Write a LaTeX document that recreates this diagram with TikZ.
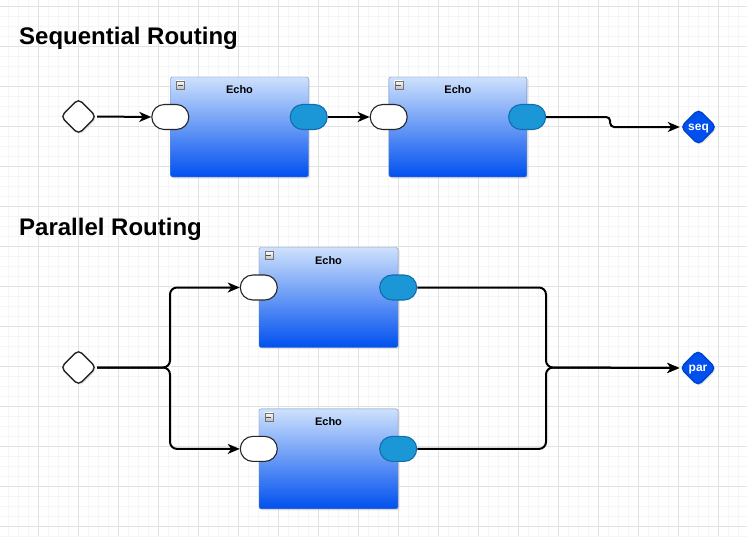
\documentclass[tikz,border=0pt]{standalone}
\usepackage{fontspec}
\setmainfont{Liberation Sans}
\usetikzlibrary{arrows.meta,shapes.geometric,shapes.misc,shadows,positioning}
\tikzset{>={Stealth[length=12pt,width=10pt,inset=3.5pt]}}
\definecolor{echotop}{RGB}{206,225,252}
\definecolor{echobot}{RGB}{0,80,239}
\definecolor{echoline}{RGB}{108,142,191}
\definecolor{portblue}{RGB}{27,151,216}
\definecolor{portline}{RGB}{16,110,175}
\definecolor{gridminor}{RGB}{245,245,245}
\definecolor{gridmajor}{RGB}{226,226,226}

\begin{document}
\begin{tikzpicture}[x=1pt,y=-1pt,
shadowed/.style = {
    drop shadow={shadow xshift=1.5pt,shadow yshift=-1.5pt,opacity=.2}
                  },
echo/.style = {
    draw=echoline, rounded corners=2pt,
    top color=echotop, bottom color=echobot,
    minimum width=#1, minimum height=100pt, inner sep=0pt,
    shadowed
               },
echolabel/.style = {font=\bfseries\fontsize{11}{13}\selectfont, inner sep=0pt},
collapse/.style = {
    draw=black!55, top color=white, bottom color=black!25,
    minimum size=8pt, inner sep=0pt
                   },
port/.style = {
    rounded rectangle, draw=black!85, line width=1.1pt, fill=white,
    minimum width=37pt, minimum height=25pt, inner sep=0pt
               },
outport/.style = {port, fill=portblue, draw=portline},
gate/.style = {
    diamond, aspect=1, draw=black!85, line width=1.4pt, fill=white,
    rounded corners=5pt, minimum size=36pt, inner sep=0pt, shadowed
               },
sink/.style = {
    gate, fill=echobot, draw=echobot!85!black, text=white,
    text height=6.2pt, text depth=0pt,
    font=\bfseries\fontsize{12}{14}\selectfont
               },
flow/.style = {->, line width=2pt, rounded corners=7pt},
title/.style = {anchor=base west, inner sep=0pt,
    font=\bfseries\fontsize{24}{28}\selectfont},
                    ]
\useasboundingbox (0,0) rectangle (747,536);
\fill[white] (0,0) rectangle (747,536);
\foreach \i in {0,...,74}
    \draw[gridminor, line width=0.8pt] ({8.3+10*\i},0) -- ++(0,536);
\foreach \j in {0,...,53}
    \draw[gridminor, line width=0.8pt] (0,{6+10*\j}) -- ++(747,0);
\foreach \i in {0,...,18}
    \draw[gridmajor, line width=0.9pt] ({38.3+40*\i},0) -- ++(0,536);
\foreach \j in {0,...,13}
    \draw[gridmajor, line width=0.9pt] (0,{6+40*\j}) -- ++(747,0);

% sequential
\node[title] (titleS) at (19,44) {Sequential Routing};
\node[gate] (startS) at (78.5,116.5) {};
\node[echo=138pt] (echoA) at (239.5,127) {};
\node[echo=138pt, right=80pt of echoA] (echoB) {};
\node[sink] (seq) at (698.5,127) {seq};
\foreach \e in {A,B}{
    \node[echolabel] (lbl\e) at ([yshift=-13pt]echo\e.north) {Echo};
    \node[collapse] (col\e) at ([xshift=10pt,yshift=-8pt]echo\e.north west) {};
    \draw[black!70] ([xshift=1.8pt]col\e.west) -- ([xshift=-1.8pt]col\e.east);
    \node[port] (in\e) at ([yshift=10pt]echo\e.west) {};
    \node[outport] (out\e) at ([yshift=10pt]echo\e.east) {};
}
\draw[flow] (startS.east) -- (inA.west);
\draw[flow] (outA.east) -- (inB.west);
\draw[flow, rounded corners=4pt] (outB.east) -- ++(64,0) |- (seq.west);

% parallel
\node[title] (titleP) at (19,235) {Parallel Routing};
\node[gate] (startP) at (78.5,367.5) {};
\node[echo=139pt] (echoC) at (328.5,297.5) {};
\node[echo=139pt, below=61pt of echoC] (echoD) {};
\node[sink] (par) at (698,368) {par};
\foreach \e in {C,D}{
    \node[echolabel] (lbl\e) at ([yshift=-13pt]echo\e.north) {Echo};
    \node[collapse] (col\e) at ([xshift=10pt,yshift=-8pt]echo\e.north west) {};
    \draw[black!70] ([xshift=1.8pt]col\e.west) -- ([xshift=-1.8pt]col\e.east);
    \node[port] (in\e) at ([yshift=10pt]echo\e.west) {};
    \node[outport] (out\e) at ([yshift=10pt]echo\e.east) {};
}
\coordinate (fork) at (170,367.5);
\coordinate (join) at (546,367.5);
\draw[flow] (startP.east) -- (fork) |- (inC.west);
\draw[flow] (startP.east) -- (fork) |- (inD.west);
\draw[flow] (outC.east) -| (join) -- (par.west);
\draw[flow] (outD.east) -| (join) -- (par.west);
\end{tikzpicture}
\end{document}
